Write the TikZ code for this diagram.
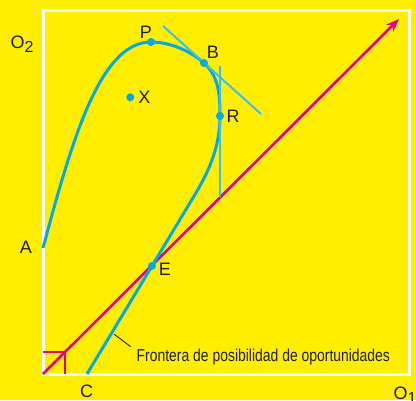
\documentclass[tikz,border=0pt]{standalone}
\usepackage{fontspec}
\setmainfont{Liberation Sans}
\newfontfamily\condfont[FakeStretch=0.81]{Liberation Sans}
\usetikzlibrary{arrows.meta}
\definecolor{bgyellow}{RGB}{255,238,0}
\definecolor{curveblue}{RGB}{0,170,228}
\definecolor{tanblue}{RGB}{60,190,240}
\definecolor{frontmag}{RGB}{228,0,124}
\definecolor{inkblack}{RGB}{35,31,32}
\begin{document}
\begin{tikzpicture}[x=1pt,y=-1pt,
 lbl/.style={font=\fontsize{18}{18}\selectfont, text=inkblack, inner sep=0pt},
 dotnode/.style={circle, fill=curveblue, inner sep=0pt, minimum size=8pt},
 frontier/.style={draw=frontmag, line width=2.6pt},
 curveline/.style={draw=curveblue, line width=3pt},
 tanline/.style={draw=tanblue, line width=2pt},
 leader/.style={draw=inkblack, line width=0.9pt}]
\useasboundingbox (0,0) rectangle (416,400);
\clip (0,0) rectangle (416,400);
\fill[bgyellow] (0,0) rectangle (416,400);
\draw[white, line width=3pt] (43,10) rectangle (409,374);
% frontier
\coordinate (O) at (43,374);
\coordinate (T) at (399,19);
\draw[frontier, -{Stealth[length=13pt,width=10pt]}] (O) -- (T);
\coordinate (S1) at (43,352);
\coordinate (S2) at (65,352);
\coordinate (S3) at (65,374);
\draw[frontier] (S1) -- (S2) -- (S3);
% curve
\coordinate (A) at (43,248);
\coordinate (P) at (151,42);
\coordinate (B) at (204,63);
\coordinate (R) at (220,116);
\coordinate (Q) at (193.5,197);
\coordinate (E) at (152,266);
\coordinate (C) at (87,374);
\coordinate (X) at (130.3,97.3);
\draw[curveline] (A) .. controls (72,140) and (100,42) .. (P)
  .. controls (170,42) and (190.6,51) .. (B)
  .. controls (218.9,76.4) and (220,95) .. (R)
  .. controls (220,150) and (206.4,175.6) .. (Q) -- (C);
% tangents
\coordinate (TB1) at (163,26);
\coordinate (TB2) at (261,114);
\coordinate (TR1) at (220,66);
\coordinate (TR2) at (220,197);
\draw[tanline] (TB1) -- (TB2);
\draw[tanline] (TR1) -- (TR2);
% dots
\node[dotnode] (dP) at (P) {};
\node[dotnode] (dB) at (B) {};
\node[dotnode] (dR) at (R) {};
\node[dotnode] (dE) at (E) {};
\node[dotnode] (dX) at (X) {};
% labels
\node[lbl] (lP) at (146,32) {P};
\node[lbl] (lB) at (213,52) {B};
\node[lbl] (lR) at (233,116) {R};
\node[lbl] (lX) at (144.5,97.3) {X};
\node[lbl] (lA) at (26,247.5) {A};
\node[lbl] (lE) at (165,269) {E};
\node[lbl] (lC) at (86.7,391.7) {C};
\node[lbl, anchor=base west] (lO2) at (10.5,48) {O\raisebox{-4pt}{\fontsize{16}{16}\selectfont 2}};
\node[lbl, anchor=base west] (lO1) at (393.5,399) {O\raisebox{-4pt}{\fontsize{16}{16}\selectfont 1}};
% frontier label
\coordinate (L1) at (114.3,334.3);
\coordinate (L2) at (130.7,346.7);
\draw[leader] (L1) -- (L2);
\node[anchor=base west, inner sep=0pt, text=inkblack, font=\condfont\fontsize{17.2}{17.2}\selectfont] (ft) at (136.5,361.5) {Frontera de posibilidad de oportunidades};
\end{tikzpicture}
\end{document}
